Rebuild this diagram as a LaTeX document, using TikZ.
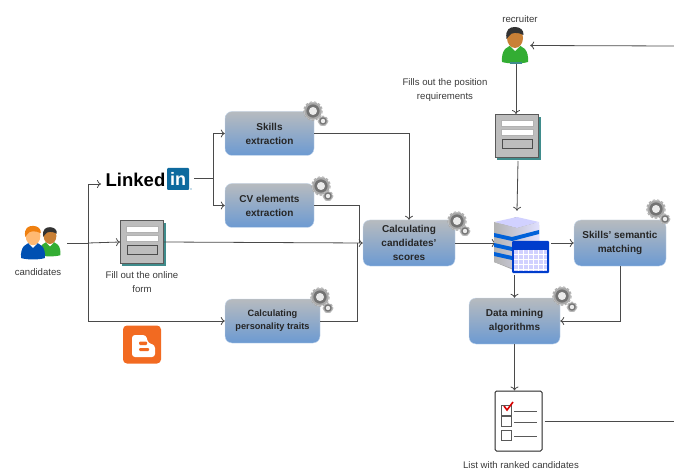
\documentclass[tikz,border=0pt]{standalone}
\usepackage{fontspec}
\setmainfont{Liberation Sans}
\usetikzlibrary{calc,arrows.meta}

\definecolor{lineg}{HTML}{4A4A4A}
\definecolor{txtg}{HTML}{3A3A3A}
\definecolor{boxtop}{HTML}{B7BBBF}
\definecolor{boxbot}{HTML}{6C9AD2}
\definecolor{gearg}{HTML}{A9A9A9}
\definecolor{formg}{HTML}{BDBDBD}
\definecolor{formsh}{HTML}{3F8C8C}
\definecolor{lnkblue}{HTML}{0E6A9E}
\definecolor{blogor}{HTML}{F26A21}

\tikzset{
    procbox/.style={rounded corners=7pt, minimum height=44pt, inner sep=0pt, align=center,
        top color=boxtop, bottom color=boxbot, draw=boxbot!40,
        font=\fontsize{10}{14}\selectfont\bfseries, text=black!85},
    lbl/.style={inner sep=0pt, align=center, text=txtg, font=\fontsize{9.6}{14}\selectfont},
    holder/.style={inner sep=0pt},
    conn/.style={draw=lineg, line width=0.8pt},
    arr/.style={conn, -{To[length=4pt,width=8pt]}}
}

% gear icon: large wheel and small wheel
\newcommand{\gearicon}[4]{
    \foreach \cx/\cy/\rr in {#1/#2/6.5, #3/#4/3.6} {
        \draw[gearg, line width=0.3*\rr pt, dash pattern=on 2.4pt off 1.8pt] (\cx,\cy) circle (\rr*1.35);
        \fill[white] (\cx,\cy) circle (\rr*1.35);
        \fill[gearg] (\cx,\cy) circle (\rr*1.35);
        \fill[black!55] (\cx,\cy) circle (\rr*1.02);
        \fill[white!92!black] (\cx,\cy) circle (\rr*0.62);
    }
}

% form icon
\newcommand{\formicon}[3]{
    \begin{scope}[shift={(#2,#3)}]
        \fill[formsh] (-20,-19) rectangle (24,24);
        \node[holder, fill=formg, draw=black!65, line width=1pt, minimum width=43pt, minimum height=43pt] (#1) at (0,0) {};
        \draw[black!30, fill=white] (-16,-16) rectangle (16,-10);
        \draw[black!30, fill=white] (-16,-7) rectangle (16,-1);
        \draw[black!70, fill=formg, line width=0.8pt] (-15,3) rectangle (15,12);
    \end{scope}
}

% person icon
\newcommand{\personicon}[6]{
    \begin{scope}[shift={(#1,#2)}, scale=#3]
        \fill[#6] (-13,24) .. controls (-14,12) and (-8,7) .. (0,7) .. controls (8,7) and (14,12) .. (13,24)
            .. controls (6,26) and (-6,26) .. (-13,24) -- cycle;
        \fill[white] (-5,8) -- (5,8) -- (0,13) -- cycle;
        \fill[#5] (0,0) ellipse (8 and 10);
        \fill[#4] (-8.5,1) .. controls (-10,-9) and (-5,-11) .. (0,-11) .. controls (5,-11) and (9,-8) .. (8.5,-3)
            .. controls (3,-6) and (-4,-6) .. (-6,-2) -- cycle;
    \end{scope}
}

\begin{document}
\begin{tikzpicture}[x=1pt, y=-1pt, >=Stealth]

    \useasboundingbox (0,0) rectangle (674,470);

    % processes
    \node[procbox, minimum width=89pt] (skills) at (269.5,133.5) {Skills\\extraction};
    \node[procbox, minimum width=89pt] (cvx) at (269.5,205.5) {CV elements\\extraction};
    \node[procbox, minimum width=95pt, font=\fontsize{9.2}{13}\selectfont\bfseries] (traits) at (272.5,321) {Calculating\\personality traits};
    \node[procbox, minimum width=92pt, minimum height=46pt] (scores) at (409,243) {Calculating\\candidates'\\scores};
    \node[procbox, minimum width=92pt, minimum height=46pt] (semantic) at (620,243) {Skills' semantic\\matching};
    \node[procbox, minimum width=91pt, minimum height=46pt] (mining) at (514.5,321) {Data mining\\algorithms};

    % holders for the pictures
    \node[holder, minimum width=46pt, minimum height=30pt] (cand) at (44,243) {};
    \node[holder, minimum width=28pt, minimum height=35pt] (recr) at (516,45.5) {};
    \node[holder, minimum width=57pt, minimum height=64pt] (dbicon) at (522.5,243) {};
    \coordinate (lnkin) at (101,184);
    \coordinate (lnkout) at (194,178);
    \coordinate (lnkfork) at (213,178);
    \coordinate (candfork) at (88,243);
    \coordinate (mergeA) at (359,243);
    \coordinate (mergeB) at (357,243);
    \coordinate (edgeA) at (674,421);
    \coordinate (edgeB) at (674,46);

    % icons with connectors behind
    \formicon{formA}{142}{242}
    \formicon{formB}{517}{136}

    % the list
    \node[holder, fill=white, draw=black!85, line width=1pt, rounded corners=1.5pt, minimum width=47pt, minimum height=60pt] (rlist) at (518.5,421) {};
    \foreach \yy/\xs in {410/501, 421/501, 435/501} {
        \draw[black!65, line width=0.7pt] (\xs,\yy-5) rectangle ++(10,10);
        \draw[black!65, line width=0.7pt] (\xs+13,\yy+1) -- ++(23,0);
    }
    \draw[red!85!black, line width=1.6pt] (504,406) -- (507,410) -- (513,402);

    % connectors
    \draw[conn] (cand.east) -- (candfork);
    \draw[arr] (candfork) -- (formA.west);
    \draw[arr] (candfork) |- (lnkin);
    \draw[arr] (candfork) |- (traits.west);
    \draw[conn] (lnkout) -- (lnkfork);
    \draw[arr] (lnkfork) |- (skills.west);
    \draw[arr] (lnkfork) |- (cvx.west);
    \draw[arr] (formA.east) -- (scores.west);
    \draw[arr] (skills.east) -| (scores.north);
    \draw[conn] (cvx.east) -| (mergeA);
    \draw[conn] (traits.east) -| (mergeB);
    \draw[arr] (scores.east) -- ($(dbicon.west)+(2,0)$);
    \draw[arr] (dbicon.east) -- (semantic.west);
    \draw[arr] (semantic.south) |- (mining.east);
    \draw[arr] (dbicon.south -| mining.north) -- (mining.north);
    \draw[arr] (mining.south) -- (rlist.north -| mining.south);
    \draw[conn] ($(rlist.east)+(2,0)$) -- (edgeA);
    \draw[arr] (edgeB) -- (recr.east);
    \draw[arr] (recr.south) -- (formB.north -| recr.south);
    \draw[arr] (formB.south) ++(1,3) -- (dbicon.north -| formB.south);

    % gears
    \gearicon{313}{111}{323}{121}
    \gearicon{321}{186}{328}{196}
    \gearicon{320}{297}{328}{308}
    \gearicon{457}{221}{465}{231}
    \gearicon{656}{209}{665}{219}
    \gearicon{562}{296}{572}{307}

    % people
    \personicon{50}{236}{0.8}{black!80}{brown!85!orange}{green!60!black!80!white}
    \personicon{33}{236}{0.92}{orange!75!brown}{orange!55!white}{blue!55!cyan!70!black}
    \personicon{515}{38}{1}{black!80}{brown!85!orange}{green!60!black!80!white}
    \fill[formsh] (510,62) rectangle (522,64);

    % LinkedIn
    \node[holder, text=black, font=\fontsize{18.5}{20}\selectfont\bfseries] (lnktxt) at (135.5,180) {Linked};
    \node[holder, fill=lnkblue, text=white, rounded corners=1pt, minimum size=22pt, font=\fontsize{18}{20}\selectfont\bfseries] (lnkbox) at (178,179) {in};
    \fill[lnkblue] (191,189) circle (0.6);

    % Blogger
    \node[holder, fill=blogor, rounded corners=4pt, minimum size=38pt] (blog) at (142,344.5) {};
    \fill[white, rounded corners=3pt] (132,335) -- (146,335) -- (148,343) -- (155,345) -- (155,357) -- (132,357) -- cycle;
    \fill[blogor, rounded corners=1pt] (139,341.5) rectangle (147,345);
    \fill[blogor, rounded corners=1pt] (139,348) rectangle (149,351);

    % database and table
    \fill[black!35] (494,226) -- (516,217) -- (539,225) -- (539,262) -- (516,271) -- (494,262) -- cycle;
    \fill[blue!18!white] (494,222) -- (517,217) -- (539,222) -- (517,228) -- cycle;
    \shade[left color=black!30, right color=blue!12!white] (494,222) -- (517,228) -- (539,222) -- (539,262) -- (517,270) -- (494,262) -- cycle;
    \foreach \yy in {233,243,252} {
        \fill[blue!55!cyan!85!black] (494,\yy) -- (512,\yy+4) -- (512,\yy+8) -- (494,\yy+4) -- cycle;
    }
    \fill[blue!55!cyan!85!black] (512,237) -- (539,230) -- (539,234) -- (512,241) -- cycle;
    \fill[blue!70!cyan!80!black, rounded corners=1pt] (512,241) rectangle (549,273);
    \fill[blue!18!white] (514,250) rectangle (547,271);
    \foreach \xx in {518,523,...,543} {
        \draw[white, line width=0.8pt] (\xx,250) -- (\xx,271);
    }
    \foreach \yy in {254,259,264,269} {
        \draw[white, line width=0.8pt] (514,\yy) -- (547,\yy);
    }

    % labels
    \node[lbl] (candlbl) at (38,272) {candidates};
    \node[lbl] (formlbl) at (142,282) {Fill out the online\\form};
    \node[lbl] (recrlbl) at (520,19) {recruiter};
    \node[lbl] (reqlbl) at (445,90) {Fills out the position\\requirements};
    \node[lbl] (listlbl) at (521,465) {List with ranked candidates};

\end{tikzpicture}
\end{document}
